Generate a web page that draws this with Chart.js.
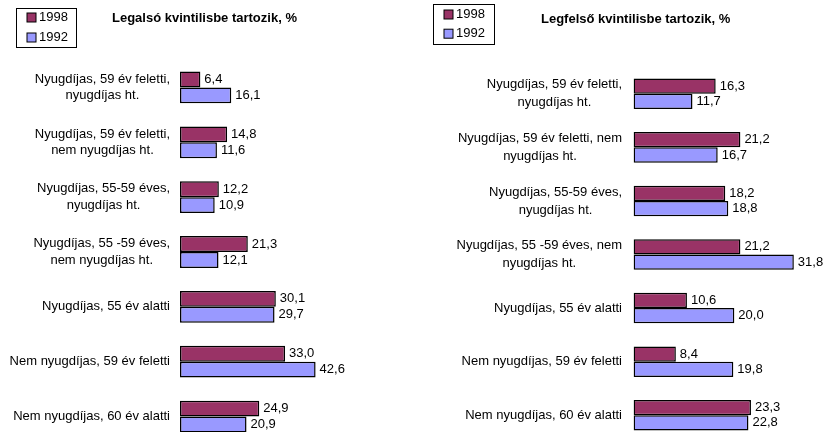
<!DOCTYPE html>
<html>
<head>
<meta charset="utf-8">
<script src="https://cdn.jsdelivr.net/npm/chart.js@4/dist/chart.umd.min.js"></script>
<style>
    html, body { margin: 0; padding: 0; background: #fff; overflow: hidden; }
    body { width: 826px; height: 432px; position: relative; }
    .box { position: absolute; top: 0; width: 413px; height: 460px; }
    #left { left: 0; }
    #right { left: 413px; }
</style>
</head>
<body>
<div class="box" id="left"><canvas id="lowChart"></canvas></div>
<div class="box" id="right"><canvas id="highChart"></canvas></div>
<script>
// Adatok
const seriesNames = ['1998', '1992'];

const lowLabels = [
    ['Nyugdíjas, 59 év feletti,', 'nyugdíjas ht.'],
    ['Nyugdíjas, 59 év feletti,', 'nem nyugdíjas ht.'],
    ['Nyugdíjas, 55-59 éves,', 'nyugdíjas ht.'],
    ['Nyugdíjas, 55 -59 éves,', 'nem nyugdíjas ht.'],
    ['Nyugdíjas, 55 év alatti'],
    ['Nem nyugdíjas, 59 év feletti'],
    ['Nem nyugdíjas, 60 év alatti']
];
const low1998 = [6.4, 14.8, 12.2, 21.3, 30.1, 33.0, 24.9];
const low1992 = [16.1, 11.6, 10.9, 12.1, 29.7, 42.6, 20.9];

const highLabels = [
    ['Nyugdíjas, 59 év feletti,', 'nyugdíjas ht.'],
    ['Nyugdíjas, 59 év feletti, nem', 'nyugdíjas ht.'],
    ['Nyugdíjas, 55-59 éves,', 'nyugdíjas ht.'],
    ['Nyugdíjas, 55 -59 éves, nem', 'nyugdíjas ht.'],
    ['Nyugdíjas, 55 év alatti'],
    ['Nem nyugdíjas, 59 év feletti'],
    ['Nem nyugdíjas, 60 év alatti']
];
const high1998 = [16.3, 21.2, 18.2, 21.2, 10.6, 8.4, 23.3];
const high1992 = [11.7, 16.7, 18.8, 31.8, 20.0, 19.8, 22.8];

const colors = ['#993366', '#9999FF'];
const FONT = 'Arial, "Liberation Sans", sans-serif';

// Saját plugin: cím, jelmagyarázat, kategóriafeliratok, értékek
const decoPlugin = {
    id: 'deco',
    afterDatasetsDraw(chart, args, opts) {
        const ctx = chart.ctx;
        ctx.save();

        // értékfeliratok a sávok végén
        ctx.font = '13px ' + FONT;
        ctx.fillStyle = '#000';
        ctx.textAlign = 'left';
        ctx.textBaseline = 'middle';
        chart.data.datasets.forEach((ds, di) => {
            const meta = chart.getDatasetMeta(di);
            meta.data.forEach((bar, i) => {
                const txt = ds.data[i].toFixed(1).replace('.', ',');
                ctx.fillText(txt, bar.x + 4, bar.y);
            });
        });

        // kategóriafeliratok (blokk jobbra zárva, sorok középre)
        const yScale = chart.scales.y;
        chart.data.labels.forEach((lines, i) => {
            const cy = yScale.getPixelForTick(i);
            let w = 0;
            lines.forEach(l => { w = Math.max(w, ctx.measureText(l).width); });
            const cx = opts.labelRight - w / 2;
            ctx.textAlign = 'center';
            lines.forEach((l, k) => {
                const y = cy + (k - (lines.length - 1) / 2) * opts.lineHeight;
                ctx.fillText(l, cx, y);
            });
        });

        // cím
        ctx.font = 'bold 13px ' + FONT;
        ctx.textAlign = 'left';
        ctx.fillText(opts.title, opts.titleX, opts.titleY);

        // jelmagyarázat keretben
        const lg = opts.legend;
        ctx.strokeStyle = '#000';
        ctx.lineWidth = 1;
        ctx.strokeRect(lg.x + 0.5, lg.y + 0.5, lg.w, lg.h);
        ctx.font = '13px ' + FONT;
        chart.data.datasets.forEach((ds, di) => {
            const ty = lg.y + lg.first + di * lg.step;
            ctx.fillStyle = ds.backgroundColor;
            ctx.fillRect(lg.x + 11, ty - 4.5, 9, 9);
            ctx.strokeRect(lg.x + 11, ty - 4.5, 9, 9);
            ctx.fillStyle = '#000';
            ctx.fillText(ds.label, lg.x + 23, ty);
        });

        ctx.restore();
    }
};

function makeChart(id, labels, d1998, d1992, cfg) {
    const ctx = document.getElementById(id).getContext('2d');
    return new Chart(ctx, {
        type: 'bar',
        data: {
            labels: labels,
            datasets: [
                { label: seriesNames[0], data: d1998, backgroundColor: colors[0] },
                { label: seriesNames[1], data: d1992, backgroundColor: colors[1] }
            ]
        },
        options: {
            indexAxis: 'y',
            responsive: true,
            maintainAspectRatio: false,
            animation: false,
            layout: { padding: cfg.padding },
            datasets: {
                bar: {
                    borderColor: '#000',
                    borderWidth: 1.5,
                    borderSkipped: false,
                    barPercentage: 1.0,
                    categoryPercentage: cfg.catPct
                }
            },
            scales: {
                x: { display: false, min: 0, max: cfg.max },
                y: { display: false }
            },
            plugins: {
                legend: { display: false },
                title: { display: false },
                tooltip: { enabled: false },
                deco: cfg.deco
            }
        },
        plugins: [decoPlugin]
    });
}

makeChart('lowChart', lowLabels, low1998, low1992, {
    max: 60,
    catPct: 0.58,
    padding: { left: 180, top: 60, bottom: 16, right: 42 },
    deco: {
        title: 'Legalsó kvintilisbe tartozik, %',
        titleX: 112, titleY: 18.5,
        labelRight: 170, lineHeight: 16.5,
        legend: { x: 16, y: 8, w: 60, h: 39, first: 9.5, step: 20 }
    }
});

makeChart('highChart', highLabels, high1998, high1992, {
    max: 36,
    catPct: 0.57,
    padding: { left: 220.5, top: 67, bottom: 18, right: 11 },
    deco: {
        title: 'Legfelső kvintilisbe tartozik, %',
        titleX: 128, titleY: 19.5,
        labelRight: 209, lineHeight: 18,
        legend: { x: 20, y: 4, w: 61, h: 40, first: 10.5, step: 19.2 }
    }
});
</script>
</body>
</html>
